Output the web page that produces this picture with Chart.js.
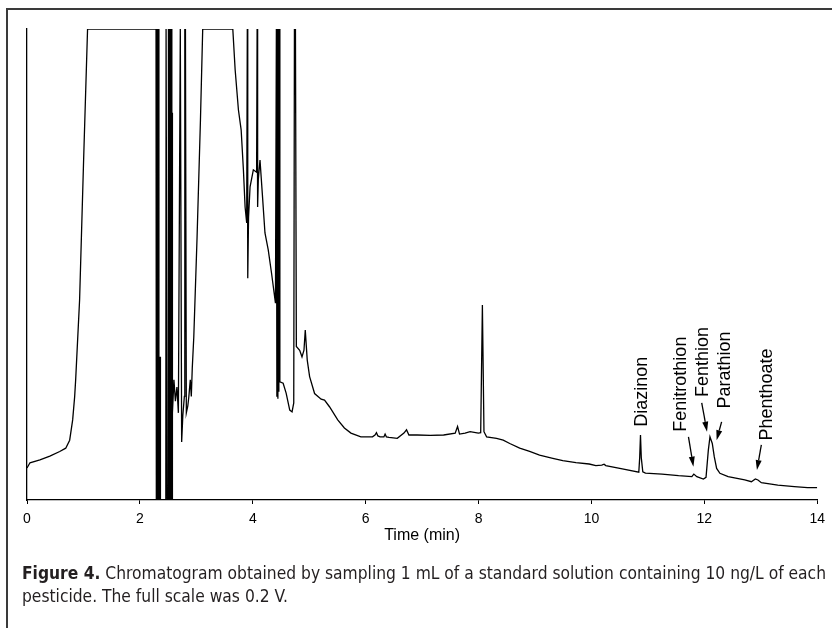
<!DOCTYPE html>
<html>
<head>
<meta charset="utf-8">
<script src="https://cdn.jsdelivr.net/npm/chart.js@4.4.1/dist/chart.umd.min.js"></script>
<style>
  html, body { margin: 0; padding: 0; background: #fff; }
  #wrap { position: relative; width: 832px; height: 628px; overflow: hidden; }
  #frame { position: absolute; left: 6px; top: 8px; width: 900px; height: 700px;
           border-left: 2px solid #3a3a3a; border-top: 2px solid #3a3a3a; }
  canvas { position: absolute; left: 0; top: 0; }
  .cap { position: absolute; left: 22px; white-space: nowrap; color: #231f20;
         font-family: "Liberation Sans Narrow", "DejaVu Sans Condensed", "Liberation Sans", sans-serif;
         font-size: 17px; line-height: 23px; transform-origin: 0 0; }
  .cap b { font-weight: bold; }
</style>
</head>
<body>
<div id="wrap">
  <div id="frame"></div>
  <canvas id="c" width="832" height="628"></canvas>
  <div class="cap" id="cap1" style="top:562px"><b>Figure 4.</b> Chromatogram obtained by sampling 1 mL of a standard solution containing 10 ng/L of each</div>
  <div class="cap" id="cap2" style="top:585px">pesticide. The full scale was 0.2 V.</div>
</div>
<script>
// ---- data (time in min, detector response in % of full scale) ----
const times = [
  0, 0.053, 0.229, 0.405, 0.580, 0.686, 0.756, 0.809, 0.844, 0.862, 0.932, 1.003, 1.073, 2.286,
  2.292, 2.309, 2.315, 2.332, 2.337, 2.353, 2.359, 2.364, 2.459, 2.464, 2.480, 2.485, 2.501, 2.506,
  2.522, 2.527, 2.543, 2.549, 2.561, 2.566, 2.570, 2.573, 2.580, 2.603, 2.629, 2.656, 2.682, 2.716,
  2.726, 2.740, 2.761, 2.788, 2.796, 2.807, 2.823, 2.849, 2.867, 2.893, 2.911, 2.928, 2.955, 3.013,
  3.073, 3.113, 3.646, 3.688, 3.746, 3.794, 3.834, 3.864, 3.892, 3.903, 3.911, 3.925, 3.952, 4.010,
  4.068, 4.077, 4.086, 4.098, 4.128, 4.168, 4.216, 4.274, 4.332, 4.402, 4.418, 4.427, 4.436, 4.445,
  4.453, 4.462, 4.471, 4.480, 4.538, 4.591, 4.655, 4.696, 4.726, 4.738, 4.756, 4.772, 4.831, 4.872,
  4.907, 4.930, 4.965, 5.007, 5.095, 5.211, 5.271, 5.359, 5.505, 5.623, 5.739, 5.915, 6.121, 6.165,
  6.191, 6.217, 6.256, 6.323, 6.344, 6.367, 6.414, 6.560, 6.678, 6.724, 6.766, 6.912, 7.146, 7.382,
  7.586, 7.628, 7.663, 7.762, 7.850, 7.997, 8.038, 8.068, 8.096, 8.143, 8.319, 8.437, 8.553, 8.729,
  8.905, 9.081, 9.316, 9.492, 9.726, 9.960, 10.078, 10.183, 10.224, 10.254, 10.547, 10.839, 10.855,
  10.869, 10.883, 10.910, 10.957, 11.251, 11.543, 11.779, 11.814, 11.867, 11.983, 12.030, 12.071,
  12.100, 12.141, 12.176, 12.218, 12.276, 12.422, 12.716, 12.834, 12.904, 12.950, 13.010, 13.302,
  13.595, 13.829, 14.0
];
const signal = [
  6.8, 7.9, 8.5, 9.3, 10.3, 11.0, 12.7, 17.0, 21.9, 25.5, 42.5, 72.2, 100, 100,
  -10, -10, 100, 100, -10, -10, 30.4, -10, -10, 100, 100, -10, -10, 100,
  100, -10, -10, 100, 100, -10, -10, 82.2, 18.5, 25.5, 21, 24, 18.5, 100,
  100, 12.3, 18, 22, 100, 100, 18.5, 20, 21.9, 25.5, 22, 28, 34.6, 55.8,
  80.7, 100, 100, 91.3, 82.8, 78.6, 70.1, 62.2, 58.8, 100, 47.1, 60, 66.5, 70.1,
  69.6, 100, 62.2, 68, 72.2, 65.2, 56.7, 53.1, 48.2, 41.8, 100, 21.9, 100, 21.5,
  100, 23, 100, 25.1, 24.8, 22.7, 19.1, 18.7, 20.6, 100, 100, 32.6, 31.8, 30.4,
  31.8, 36.1, 29.7, 26.2, 22.6, 21.4, 21.2, 19.8, 17.0, 15.3, 14.2, 13.4, 13.4, 13.8,
  14.3, 13.6, 13.4, 13.4, 14.0, 13.4, 13.3, 13.1, 14.2, 14.9, 13.8, 13.8, 13.7, 13.8,
  14.2, 15.6, 14.0, 14.2, 14.5, 14.2, 14.3, 41.4, 14.5, 13.4, 13.1, 12.7, 12.0, 11.0,
  10.3, 9.55, 8.85, 8.34, 7.92, 7.64, 7.3, 7.4, 7.6, 7.3, 6.6, 5.9, 9.0,
  13.8, 9.0, 6.0, 5.7, 5.5, 5.16, 4.95, 5.5, 4.95, 4.46, 4.8, 10.6,
  13.4, 12.0, 9.2, 6.7, 5.67, 4.95, 4.25, 3.89, 4.46, 4.25, 3.67, 3.18,
  2.83, 2.61, 2.61
];
const xTicks = [0, 2, 4, 6, 8, 10, 12, 14];
const peakNames = ["Diazinon", "Fenitrothion", "Fenthion", "Parathion", "Phenthoate"];
const peakTimes = [10.87, 11.81, 12.10, 12.15, 12.93];

// ---- annotation placement (data units: min, % full scale) ----
const labelLayout = [
  { t: 10.992, v: 23.0, arrow: null },
  { t: 11.670, v: 24.6, arrow: [11.719, 13.4, 11.807, 7.07] },
  { t: 12.065, v: 29.3, arrow: [11.954, 20.6, 12.048, 14.5] },
  { t: 12.461, v: 27.6, arrow: [12.306, 16.6, 12.218, 12.7] },
  { t: 13.191, v: 22.4, arrow: [13.010, 11.7, 12.932, 6.37] }
];

const points = times.map((t, i) => ({ x: t, y: signal[i] }));

const peakLabels = {
  id: 'peakLabels',
  afterDatasetsDraw(chart) {
    const { ctx, scales: { x, y } } = chart;
    ctx.save();
    ctx.fillStyle = '#000';
    ctx.strokeStyle = '#000';
    ctx.font = '18px "Liberation Sans", Arial, sans-serif';
    peakNames.forEach((name, i) => {
      const L = labelLayout[i];
      const px = x.getPixelForValue(L.t), py = y.getPixelForValue(L.v);
      ctx.save();
      ctx.translate(px, py);
      ctx.rotate(-Math.PI / 2);
      ctx.textAlign = 'center';
      ctx.textBaseline = 'alphabetic';
      ctx.fillText(name, 0, 0);
      ctx.restore();
      if (L.arrow) {
        const [t0, v0, t1, v1] = L.arrow;
        const x0 = x.getPixelForValue(t0), y0 = y.getPixelForValue(v0);
        const x1 = x.getPixelForValue(t1), y1 = y.getPixelForValue(v1);
        const ang = Math.atan2(y1 - y0, x1 - x0);
        const hl = 10, hw = 3;
        const bx = x1 - hl * Math.cos(ang), by = y1 - hl * Math.sin(ang);
        ctx.lineWidth = 1.3;
        ctx.beginPath();
        ctx.moveTo(x0, y0);
        ctx.lineTo(bx, by);
        ctx.stroke();
        ctx.beginPath();
        ctx.moveTo(x1, y1);
        ctx.lineTo(bx + hw * Math.sin(ang), by - hw * Math.cos(ang));
        ctx.lineTo(bx - hw * Math.sin(ang), by + hw * Math.cos(ang));
        ctx.closePath();
        ctx.fill();
      }
    });
    ctx.restore();
  }
};

new Chart(document.getElementById('c'), {
  type: 'line',
  data: {
    datasets: [{
      data: points,
      borderColor: '#000',
      borderWidth: 1.3,
      pointRadius: 0,
      tension: 0,
      fill: false
    }]
  },
  options: {
    responsive: false,
    animation: false,
    events: [],
    layout: { padding: { left: 27, right: 9, top: 29, bottom: 82.4 } },
    plugins: { legend: { display: false }, tooltip: { enabled: false } },
    scales: {
      x: {
        type: 'linear', min: 0, max: 14,
        afterBuildTicks: s => { s.ticks = xTicks.map(v => ({ value: v })); },
        ticks: { color: '#000', font: { family: '"Liberation Sans", Arial, sans-serif', size: 14 },
                 padding: 7, maxRotation: 0, autoSkip: false },
        grid: { drawOnChartArea: false, drawTicks: true, tickLength: 4, color: '#000', lineWidth: 1 },
        border: { display: true, color: '#000', width: 1.3 },
        title: { display: true, text: 'Time (min)', color: '#000',
                 font: { family: '"Liberation Sans", Arial, sans-serif', size: 16 }, padding: 0 },
        afterFit: s => { s.height = 45.6; }
      },
      y: {
        min: 0, max: 100,
        ticks: { display: false },
        grid: { display: false, drawTicks: false },
        border: { display: true, color: '#000', width: 1.3 },
        afterFit: s => { s.width = 0; }
      }
    }
  },
  plugins: [peakLabels]
});

// fit caption to the reference line width
(function () {
  const c1 = document.getElementById('cap1'), c2 = document.getElementById('cap2');
  const w = c1.getBoundingClientRect().width;
  const sx = 804 / w;
  c1.style.transform = 'scaleX(' + sx + ')';
  c2.style.transform = 'scaleX(' + sx + ')';
})();
</script>
</body>
</html>
